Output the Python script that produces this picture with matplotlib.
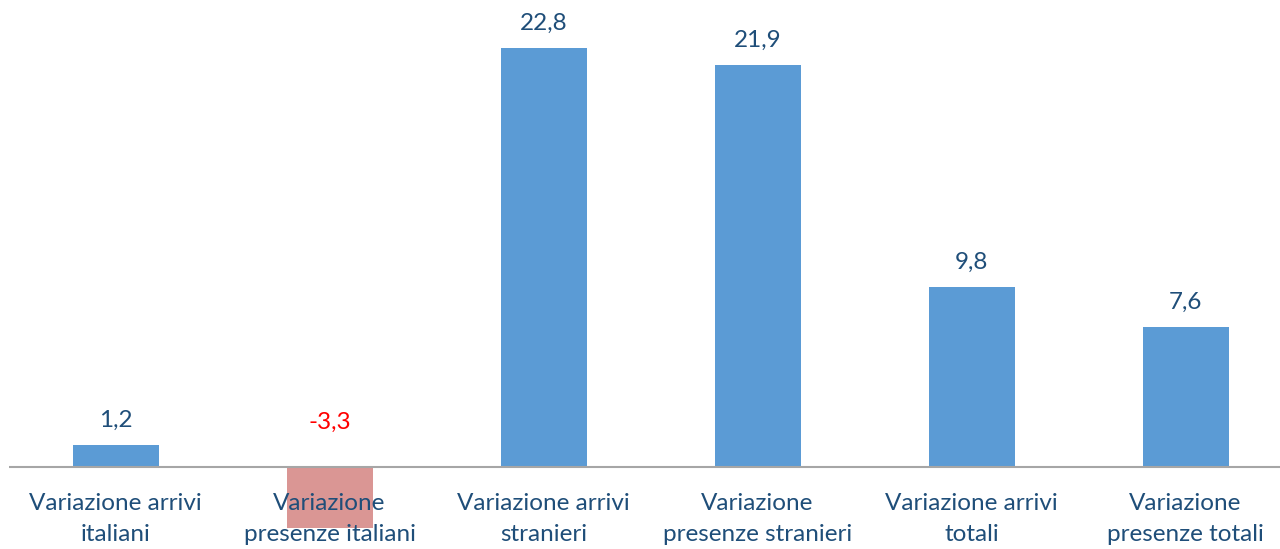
import matplotlib
matplotlib.use("Agg")
import matplotlib.pyplot as plt

categories = ["Variazione arrivi\nitaliani", "Variazione\npresenze italiani",
              "Variazione arrivi\nstranieri", "Variazione\npresenze stranieri",
              "Variazione arrivi\ntotali", "Variazione\npresenze totali"]
values = [1.2, -3.3, 22.8, 21.9, 9.8, 7.6]
value_labels = ["1,2", "-3,3", "22,8", "21,9", "9,8", "7,6"]

W, H = 1280, 549
fig = plt.figure(figsize=(W / 100, H / 100), dpi=100)
plt.rcParams['font.family'] = ['Lato', 'DejaVu Sans']

px_per_unit = (467 - 48) / 22.8
top_px, bot_px = 5, 545
ymax = (467 - top_px) / px_per_unit
ymin = -(bot_px - 467) / px_per_unit
left_px = 8.5
slot = 214
ax = fig.add_axes([left_px / W, (H - bot_px) / H, slot * 6 / W, (bot_px - top_px) / H])
ax.set_xlim(-0.5, 5.5)
ax.set_ylim(ymin, ymax)
ax.axis('off')

blue = "#5B9BD5"
red = "#DA9694"
txt = "#1F4E79"
fs = 17.5
x = list(range(len(values)))
colors = [blue if v >= 0 else red for v in values]
ax.bar(x, values, width=86 / slot, color=colors, zorder=2)
ax.axhline(0, color="#A6A6A6", lw=1.5, zorder=3)

for xi, v, lab in zip(x, values, value_labels):
    if v >= 0:
        ax.annotate(lab, (xi, v), xytext=(0, 18), textcoords='offset pixels',
                    ha='center', va='baseline', fontsize=fs, color=txt)
    else:
        ax.annotate(lab, (xi, 0), xytext=(0, 38), textcoords='offset pixels',
                    ha='center', va='baseline', fontsize=fs, color='red')

for xi, c in zip(x, categories):
    ax.annotate(c, (xi, 0), xytext=(0, -26), textcoords='offset pixels',
                ha='center', va='top', fontsize=fs, color=txt, linespacing=1.6, zorder=5)

fig.savefig("out.png", dpi=100)
